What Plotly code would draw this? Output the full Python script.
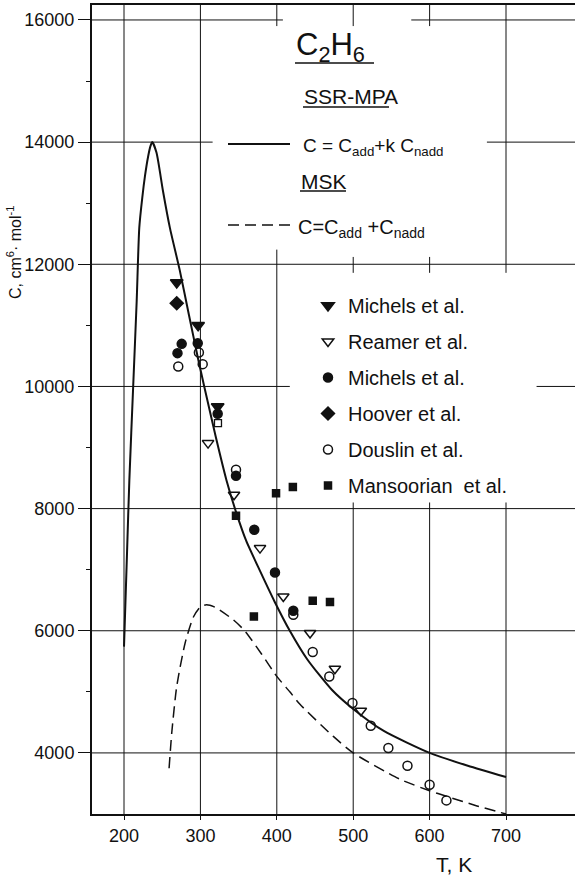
import plotly.graph_objects as go

# ---- curves: third virial coefficient C(T) of ethane ----
ssr_T = [200, 204, 207, 212, 216.6, 220, 224, 227.5, 231.5, 234.5, 237, 242.5, 251, 260,
         273, 285, 297, 305, 320, 334, 347, 360, 378, 397, 417, 440, 472, 500, 540, 600, 650, 700]
ssr_C = [5740, 7300, 8470, 10000, 11400, 12600, 13100, 13450, 13760, 13930, 14000, 13830, 13200, 12600,
         11900, 11170, 10450, 10000, 9180, 8470, 7930, 7470, 6980, 6480, 6000, 5530, 5034, 4720, 4360, 4000, 3790, 3605]

msk_T = [259, 262.5, 269, 280, 291, 300, 308, 320, 343, 358, 380, 400, 417, 430, 474, 500, 561, 600, 622, 660, 700]
msk_C = [3750, 4330, 5090, 5800, 6230, 6390, 6425, 6380, 6180, 6000, 5620, 5253, 5000, 4800, 4270, 4000, 3570, 3380, 3290, 3140, 3000]

# ---- experimental data ----
michels_tri_T = [269, 297, 322.6]
michels_tri_C = [11700, 11000, 9671]

reamer_T = [310, 344, 378, 408.5, 443.5, 476, 510]
reamer_C = [9072, 8226, 7353, 6561, 5962, 5378, 4691]

michels_dot_T = [270, 275.5, 296.5, 322.6, 346.6, 370.5, 397.6, 421.6]
michels_dot_C = [10545, 10697, 10708, 9552, 8537, 7653, 6954, 6327]

hoover_T = [269]
hoover_C = [11363]

douslin_T = [271, 298, 303, 346.6, 421.6, 447, 468.7, 499, 523, 546, 571, 600, 622]
douslin_C = [10326, 10555, 10365, 8635, 6262, 5651, 5252, 4816, 4445, 4080, 3791, 3480, 3223]

mansoorian_T = [346.6, 370, 399, 421, 447, 469.6]
mansoorian_C = [7882, 6234, 8253, 8352, 6491, 6470]

extra_sq_T = [323]
extra_sq_C = [9399]

x_ticks = [200, 300, 400, 500, 600, 700]
y_ticks = [4000, 6000, 8000, 10000, 12000, 14000, 16000]
y_minor = [5000, 7000, 9000, 11000, 13000, 15000]

X_RANGE = [158.1, 790.3]
Y_RANGE = [3000, 16245]

FONT = "Liberation Sans, Arial, sans-serif"
INK = "#111111"

fig = go.Figure()

fig.add_trace(go.Scatter(x=ssr_T, y=ssr_C, mode="lines", showlegend=False,
                         line=dict(color=INK, width=2, shape="spline", smoothing=0.6)))
fig.add_trace(go.Scatter(x=msk_T, y=msk_C, mode="lines", showlegend=False,
                         line=dict(color=INK, width=1.5, dash="11px,6px", shape="spline", smoothing=0.6)))

series = [
    ("Michels et al.", michels_tri_T, michels_tri_C, "triangle-down", 11),
    ("Reamer et al.", reamer_T, reamer_C, "triangle-down-open", 10),
    ("Michels et al. ", michels_dot_T, michels_dot_C, "circle", 9),
    ("Hoover et al.", hoover_T, hoover_C, "diamond", 10),
    ("Douslin et al.", douslin_T, douslin_C, "circle-open", 9),
    ("Mansoorian  et al.", mansoorian_T, mansoorian_C, "square", 7),
]
for i, (name, xs, ys, sym, sz) in enumerate(series):
    fig.add_trace(go.Scatter(
        x=xs, y=ys, mode="markers", name=name, legendgroup=f"g{i}",
        marker=dict(symbol=sym, size=sz, color=INK, line=dict(color=INK, width=1.5)),
    ))
fig.add_trace(go.Scatter(x=extra_sq_T, y=extra_sq_C, mode="markers", showlegend=False,
                         marker=dict(symbol="square-open", size=7, color=INK, line=dict(color=INK, width=1.3))))

# ---- grid: drawn as segments, left open around the key ----
shapes = []
def hseg(y, x0, x1):
    shapes.append(dict(type="line", xref="x", yref="y", x0=x0, x1=x1, y0=y, y1=y,
                       line=dict(color=INK, width=1), layer="below"))
def vseg(x, y0, y1):
    shapes.append(dict(type="line", xref="x", yref="y", x0=x, x1=x, y0=y0, y1=y1,
                       line=dict(color=INK, width=1), layer="below"))

L, R = X_RANGE
B, T = Y_RANGE
hseg(16000, L, 408); hseg(16000, 576, R)
hseg(14000, L, 316); hseg(14000, 675, R)
hseg(12000, L, R)
hseg(10000, L, 417); hseg(10000, 740, R)
for yv in (8000, 6000, 4000):
    hseg(yv, L, R)
vseg(200, B, T)
vseg(300, B, T)
vseg(400, 15900, T); vseg(400, B, 12240)
for xv in (500, 600):
    vseg(xv, 15900, T); vseg(xv, 11860, 12120); vseg(xv, B, 8100)
vseg(700, 11860, T); vseg(700, B, 8100)

# ---- key for the two curves ----
def px(xp):
    return (xp - 92) / 483
def py(yp):
    return (814 - yp) / 809

def pline(x0, x1, y, dash=None, width=2):
    shapes.append(dict(type="line", xref="paper", yref="paper", x0=px(x0), x1=px(x1),
                       y0=py(y), y1=py(y), line=dict(color=INK, width=width, dash=dash)))

pline(295, 374, 63, width=1.5)
pline(303, 389, 107, width=1.5)
pline(300, 346, 191, width=1.5)
pline(228, 290, 144, width=2)
pline(228, 290, 225, dash="11px,6px", width=1.5)

annotations = []
def note(text, x, y, size, xanchor="left", angle=0):
    annotations.append(dict(text=text, xref="paper", yref="paper", x=px(x), y=py(y),
                            xanchor=xanchor, yanchor="middle", showarrow=False, textangle=angle,
                            font=dict(family=FONT, size=size, color=INK)))

note("C<sub>2</sub>H<sub>6</sub>", 294, 47, 31)
note("SSR-MPA", 302, 96, 21)
note("C = C<sub>add</sub>+k C<sub>nadd</sub>", 301, 147, 19)
note("MSK", 299, 181, 21)
note("C=C<sub>add</sub> +C<sub>nadd</sub>", 296, 228, 20)
note("T, K", 454, 864, 21, xanchor="center")
note("C, cm<sup>6</sup>· mol<sup>-1</sup>", 14, 252, 16, xanchor="center", angle=-90)

fig.update_layout(
    width=575, height=876,
    margin=dict(l=92, r=0, t=5, b=62),
    paper_bgcolor="white", plot_bgcolor="white",
    font=dict(family=FONT, size=18, color=INK),
    shapes=shapes, annotations=annotations,
    legend=dict(x=px(308), y=py(286), xanchor="left", yanchor="top",
                bgcolor="rgba(0,0,0,0)", tracegroupgap=7,
                font=dict(family=FONT, size=20, color=INK), itemsizing="trace"),
)
fig.update_xaxes(range=X_RANGE, tickvals=x_ticks, ticktext=[str(v) for v in x_ticks],
                 showgrid=False, zeroline=False,
                 showline=True, linewidth=2, linecolor=INK, mirror=True,
                 ticks="outside", ticklen=4, tickcolor=INK,
                 tickfont=dict(family=FONT, size=18, color=INK))
fig.update_yaxes(range=Y_RANGE, tickvals=y_ticks, ticktext=[str(v) for v in y_ticks],
                 showgrid=False, zeroline=False,
                 showline=True, linewidth=2, linecolor=INK,
                 ticks="outside", ticklen=12, tickcolor=INK,
                 tickfont=dict(family=FONT, size=18, color=INK),
                 minor=dict(tickvals=y_minor, ticks="outside", ticklen=4, tickcolor=INK))

fig.write_html("out.html")
